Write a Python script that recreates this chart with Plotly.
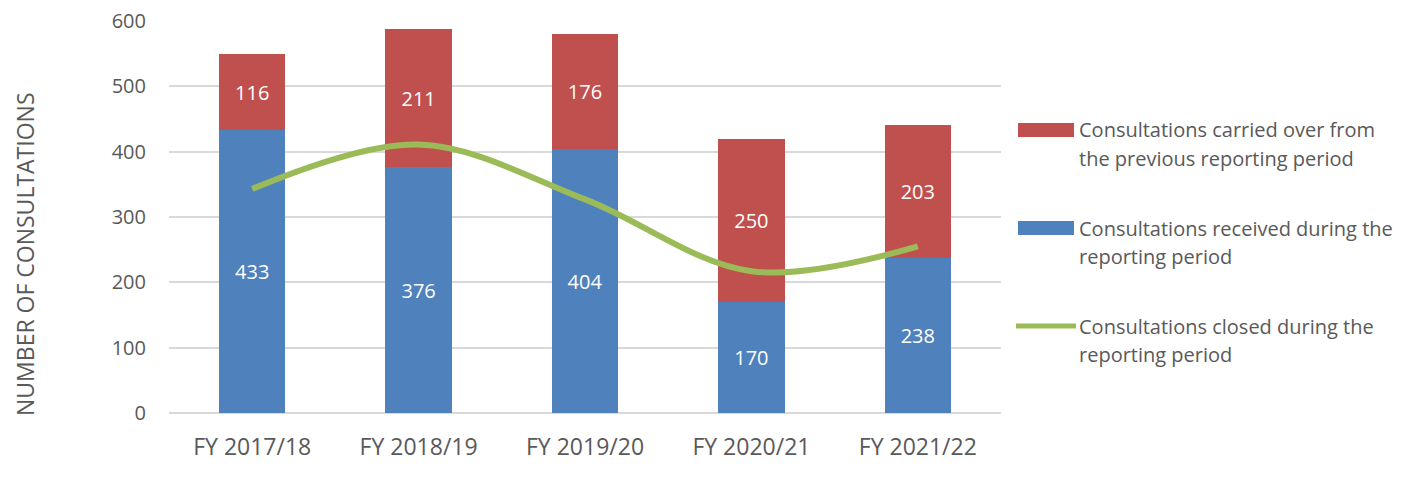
import plotly.graph_objects as go

categories = ["FY 2017/18", "FY 2018/19", "FY 2019/20", "FY 2020/21", "FY 2021/22"]
received = [433, 376, 404, 170, 238]
carried_over = [116, 211, 176, 250, 203]
closed = [343, 411, 327, 217, 255]

legend_lines = {
    "carried": ["Consultations carried over from", "the previous reporting period"],
    "received": ["Consultations received during the", "reporting period"],
    "closed": ["Consultations closed during the", "reporting period"],
}
y_title = "NUMBER OF CONSULTATIONS"
y_ticks = [0, 100, 200, 300, 400, 500, 600]

BLUE = "#4f81bd"
RED = "#c0504d"
GREEN = "#9bbb59"
GRAY = "#595959"
FONT = "Open Sans"

fig = go.Figure()
fig.add_trace(go.Bar(
    x=categories, y=received, name=" ".join(legend_lines["received"]),
    marker=dict(color=BLUE, line=dict(width=0)),
    text=received, textposition="inside", insidetextanchor="middle",
    textfont=dict(color="white", size=20, family=FONT),
))
fig.add_trace(go.Bar(
    x=categories, y=carried_over, name=" ".join(legend_lines["carried"]),
    marker=dict(color=RED, line=dict(width=0)),
    text=carried_over, textposition="inside", insidetextanchor="middle",
    textfont=dict(color="white", size=20, family=FONT),
))
fig.add_trace(go.Scatter(
    x=categories, y=closed, name=" ".join(legend_lines["closed"]),
    mode="lines", line=dict(color=GREEN, width=6, shape="spline", smoothing=1.0),
))

# page body has an 8px margin; coordinates below are in screenshot pixels
OFF = 8
W, H = 1423 - OFF, 483 - OFF
L, T = 169 - OFF, 20 - OFF
pw, ph = 832, 393
R = W - L - pw
B = H - T - ph

def px_x(p):
    return (p - OFF - L) / pw

def px_y(p):
    return (T + ph - (p - OFF)) / ph

shapes = [
    dict(type="rect", xref="paper", yref="paper", x0=px_x(1018), x1=px_x(1074),
         y0=px_y(137), y1=px_y(123), fillcolor=RED, line=dict(width=0)),
    dict(type="rect", xref="paper", yref="paper", x0=px_x(1018), x1=px_x(1074),
         y0=px_y(235), y1=px_y(221), fillcolor=BLUE, line=dict(width=0)),
    dict(type="line", xref="paper", yref="paper", x0=px_x(1016), x1=px_x(1076),
         y0=px_y(326), y1=px_y(326), line=dict(color=GREEN, width=5)),
]

annotations = []
text_rows = [
    (legend_lines["carried"][0], 130), (legend_lines["carried"][1], 158),
    (legend_lines["received"][0], 228), (legend_lines["received"][1], 256),
    (legend_lines["closed"][0], 326), (legend_lines["closed"][1], 354),
]
for txt, py in text_rows:
    annotations.append(dict(
        text=txt, xref="paper", yref="paper", x=px_x(1077), y=px_y(py),
        xanchor="left", yanchor="middle", showarrow=False,
        font=dict(size=20, color=GRAY, family=FONT),
    ))
annotations.append(dict(
    text=y_title, xref="paper", yref="paper", x=px_x(25), y=px_y(254),
    xanchor="center", yanchor="middle", textangle=-90, showarrow=False,
    font=dict(size=23, color=GRAY, family=FONT),
))

fig.update_layout(
    width=W, height=H,
    margin=dict(l=L, r=R, t=T, b=B, autoexpand=False),
    barmode="stack", bargap=0.6,
    plot_bgcolor="white", paper_bgcolor="white",
    showlegend=False,
    font=dict(family=FONT, color=GRAY),
    shapes=shapes, annotations=annotations,
    uniformtext=dict(mode="show", minsize=10),
)
fig.update_xaxes(
    showgrid=False, showline=False, zeroline=False,
    tickfont=dict(size=23, color=GRAY, family=FONT),
    ticks="outside", ticklen=13, tickcolor="rgba(0,0,0,0)",
)
fig.update_yaxes(
    range=[0, 601.5], tickvals=y_ticks,
    showgrid=True, gridcolor="#d9d9d9", gridwidth=2,
    zeroline=True, zerolinecolor="#d9d9d9", zerolinewidth=2,
    showline=False, ticklabeloverflow="allow",
    tickfont=dict(size=20, color=GRAY, family=FONT),
    ticks="outside", ticklen=18, tickcolor="rgba(0,0,0,0)",
)

fig.write_html("out.html")
